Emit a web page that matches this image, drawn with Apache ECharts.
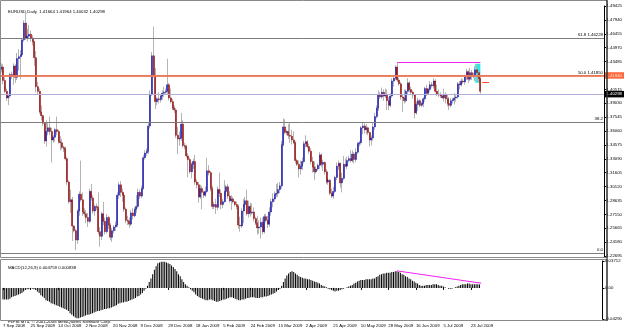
<!DOCTYPE html>
<html><head><meta charset="utf-8">
<script src="https://cdn.jsdelivr.net/npm/echarts@6/dist/echarts.min.js"></script>
<style>html,body{margin:0;padding:0;background:#fff}#c{width:625px;height:330px}</style>
</head><body><div id="c"></div>
<script>
// ---------- DATA ----------
const dateLabels = ["7 Sep 2008","25 Sep 2008","14 Oct 2008","2 Nov 2008","20 Nov 2008","9 Dec 2008","29 Dec 2008","18 Jan 2009","5 Feb 2009","24 Feb 2009","15 Mar 2009","2 Apr 2009","21 Apr 2009","10 May 2009","28 May 2009","16 Jun 2009","5 Jul 2009","23 Jul 2009"];
const dateLabelBars = [0,16,32,48,64,80,96,112,128,144,160,176,192,208,224,240,256,272];

const opens = [1.4265,
1.4290,1.4145,1.4030,1.3960,1.3980,1.4210,1.4190,1.4300,1.4180,1.4380,
1.4400,1.4420,1.4580,1.4760,1.4600,1.4620,1.4640,1.4600,1.4560,1.4390,
1.4080,1.4030,1.3810,1.3770,1.3690,1.3500,1.3600,1.3640,1.3600,1.3510,
1.3540,1.3620,1.3600,1.3490,1.3480,1.3430,1.3420,1.3310,1.3060,1.2850,
1.2870,1.2590,1.2540,1.2440,1.2750,1.2930,1.2870,1.2740,1.2720,1.2680,
1.2640,1.2960,1.2890,1.2750,1.2800,1.2790,1.2530,1.2480,1.2720,1.2640,
1.2530,1.2680,1.2600,1.2470,1.2540,1.2580,1.2600,1.2920,1.3030,1.2950,
1.2920,1.2770,1.2650,1.2640,1.2610,1.2730,1.2700,1.2770,1.2800,1.2950,
1.2910,1.2990,1.3320,1.3370,1.3390,1.3660,1.4000,1.4410,1.4200,1.3920,
1.3950,1.3940,1.3980,1.4010,1.4020,1.4030,1.4100,1.3960,1.3920,1.3850,
1.3830,1.3560,1.3520,1.3530,1.3680,1.3450,1.3440,1.3340,1.3300,1.3170,
1.3250,1.3280,1.3060,1.3030,1.2900,1.2990,1.2950,1.2920,1.2960,1.3180,
1.3160,1.2990,1.2800,1.2820,1.2790,1.2980,1.2940,1.2820,1.2850,1.2960,
1.3010,1.2910,1.2860,1.2880,1.2850,1.2820,1.2800,1.2600,1.2590,1.2750,
1.2820,1.2860,1.2720,1.2800,1.2730,1.2740,1.2670,1.2620,1.2570,1.2580,
1.2630,1.2530,1.2690,1.2650,1.2610,1.2740,1.2850,1.2880,1.2930,1.2940,
1.2980,1.3020,1.3460,1.3650,1.3590,1.3600,1.3560,1.3550,1.3510,1.3480,
1.3290,1.3250,1.3200,1.3230,1.3280,1.3470,1.3490,1.3440,1.3390,1.3280,
1.3220,1.3170,1.3200,1.3240,1.3350,1.3250,1.3270,1.3170,1.3060,1.3080,
1.2940,1.2910,1.2960,1.3110,1.3230,1.3260,1.3050,1.3100,1.3250,1.3230,
1.3290,1.3310,1.3290,1.3360,1.3300,1.3380,1.3470,1.3480,1.3640,1.3660,
1.3620,1.3640,1.3590,1.3510,1.3530,1.3650,1.3760,1.3850,1.3990,1.3970,
1.4020,1.3980,1.4000,1.3930,1.3880,1.3980,1.4140,1.4170,1.4290,1.4150,
1.4110,1.3970,1.3960,1.3930,1.4030,1.4120,1.4050,1.4020,1.3990,1.3800,
1.3890,1.3930,1.3880,1.3900,1.3950,1.4060,1.4010,1.4050,1.4100,1.4090,
1.4140,1.4030,1.4000,1.3990,1.3980,1.3960,1.3990,1.3950,1.3900,1.3880,
1.3930,1.3940,1.3960,1.3970,1.4110,1.4100,1.4140,1.4130,1.4190,1.4240,
1.4160,1.4230,1.4190,1.4200,1.4260,1.4230,1.41664];

const closes = [
1.4290,1.4145,1.4030,1.3960,1.3980,1.4210,1.4190,1.4300,1.4180,1.4380,
1.4400,1.4420,1.4580,1.4760,1.4600,1.4620,1.4640,1.4600,1.4560,1.4390,
1.4080,1.4030,1.3810,1.3770,1.3690,1.3500,1.3600,1.3640,1.3600,1.3510,
1.3540,1.3620,1.3600,1.3490,1.3480,1.3430,1.3420,1.3310,1.3060,1.2850,
1.2870,1.2590,1.2540,1.2440,1.2750,1.2930,1.2870,1.2740,1.2720,1.2680,
1.2640,1.2960,1.2890,1.2750,1.2800,1.2790,1.2530,1.2480,1.2720,1.2640,
1.2530,1.2680,1.2600,1.2470,1.2540,1.2580,1.2600,1.2920,1.3030,1.2950,
1.2920,1.2770,1.2650,1.2640,1.2610,1.2730,1.2700,1.2770,1.2800,1.2950,
1.2910,1.2990,1.3320,1.3370,1.3390,1.3660,1.4000,1.4410,1.4200,1.3920,
1.3950,1.3940,1.3980,1.4010,1.4020,1.4030,1.4100,1.3960,1.3920,1.3850,
1.3830,1.3560,1.3520,1.3530,1.3680,1.3450,1.3440,1.3340,1.3300,1.3170,
1.3250,1.3280,1.3060,1.3030,1.2900,1.2990,1.2950,1.2920,1.2960,1.3180,
1.3160,1.2990,1.2800,1.2820,1.2790,1.2980,1.2940,1.2820,1.2850,1.2960,
1.3010,1.2910,1.2860,1.2880,1.2850,1.2820,1.2800,1.2600,1.2590,1.2750,
1.2820,1.2860,1.2720,1.2800,1.2730,1.2740,1.2670,1.2620,1.2570,1.2580,
1.2630,1.2530,1.2690,1.2650,1.2610,1.2740,1.2850,1.2880,1.2930,1.2940,
1.2980,1.3020,1.3460,1.3650,1.3590,1.3600,1.3560,1.3550,1.3510,1.3480,
1.3290,1.3250,1.3200,1.3230,1.3280,1.3470,1.3490,1.3440,1.3390,1.3280,
1.3220,1.3170,1.3200,1.3240,1.3350,1.3250,1.3270,1.3170,1.3060,1.3080,
1.2940,1.2910,1.2960,1.3110,1.3230,1.3260,1.3050,1.3100,1.3250,1.3230,
1.3290,1.3310,1.3290,1.3360,1.3300,1.3380,1.3470,1.3480,1.3640,1.3660,
1.3620,1.3640,1.3590,1.3510,1.3530,1.3650,1.3760,1.3850,1.3990,1.3970,
1.4020,1.3980,1.4000,1.3930,1.3880,1.3980,1.4140,1.4170,1.4290,1.4150,
1.4110,1.3970,1.3960,1.3930,1.4030,1.4120,1.4050,1.4020,1.3990,1.3800,
1.3890,1.3930,1.3880,1.3900,1.3950,1.4060,1.4010,1.4050,1.4100,1.4090,
1.4140,1.4030,1.4000,1.3990,1.3980,1.3960,1.3990,1.3950,1.3900,1.3880,
1.3930,1.3940,1.3960,1.3970,1.4110,1.4100,1.4140,1.4130,1.4190,1.4240,
1.4160,1.4230,1.4190,1.4200,1.4260,1.4230,1.41664,1.40298];

const highs = [
1.4330,1.4320,1.4180,1.4060,1.4000,1.4230,1.4240,1.4330,1.4320,1.4440,
1.4480,1.4470,1.4600,1.4790,1.4867,1.4700,1.4740,1.4680,1.4630,1.4570,
1.4460,1.4130,1.4060,1.3880,1.3780,1.3700,1.3720,1.3700,1.3760,1.3640,
1.3560,1.3640,1.3760,1.3620,1.3550,1.3520,1.3450,1.3440,1.3330,1.3080,
1.2980,1.2900,1.2600,1.2560,1.2770,1.2960,1.3290,1.2950,1.2780,1.2760,
1.2730,1.2990,1.3040,1.2920,1.2820,1.2830,1.2950,1.2580,1.2740,1.2850,
1.2680,1.2720,1.2700,1.2620,1.2570,1.2600,1.2640,1.2950,1.3060,1.3070,
1.2990,1.2940,1.2790,1.2700,1.2680,1.2760,1.2780,1.2790,1.2920,1.2990,
1.2980,1.3020,1.3350,1.3400,1.3420,1.3700,1.4040,1.4450,1.4720,1.4280,
1.3970,1.4020,1.4000,1.4040,1.4080,1.4060,1.4380,1.4120,1.4060,1.3950,
1.3880,1.3850,1.3650,1.3600,1.3800,1.3720,1.3480,1.3460,1.3370,1.3320,
1.3270,1.3310,1.3350,1.3090,1.3060,1.3030,1.3020,1.2970,1.3010,1.3320,
1.3240,1.3180,1.3020,1.2850,1.2880,1.3010,1.3160,1.2980,1.2880,1.3080,
1.3030,1.3040,1.2960,1.2920,1.2900,1.2860,1.2850,1.2820,1.2690,1.2780,
1.2880,1.2900,1.2980,1.2860,1.2840,1.2830,1.2790,1.2690,1.2700,1.2650,
1.2680,1.2680,1.2720,1.2720,1.2700,1.2790,1.2880,1.2940,1.2960,1.3040,
1.3050,1.3060,1.3500,1.3740,1.3730,1.3620,1.3680,1.3690,1.3620,1.3600,
1.3500,1.3310,1.3290,1.3290,1.3320,1.3500,1.3560,1.3510,1.3470,1.3420,
1.3330,1.3280,1.3230,1.3260,1.3380,1.3370,1.3300,1.3280,1.3200,1.3100,
1.3090,1.2990,1.3010,1.3130,1.3270,1.3290,1.3270,1.3160,1.3340,1.3310,
1.3330,1.3340,1.3400,1.3400,1.3380,1.3420,1.3490,1.3500,1.3660,1.3700,
1.3690,1.3680,1.3650,1.3600,1.3560,1.3700,1.3800,1.3880,1.4040,1.4020,
1.4070,1.4050,1.4060,1.4050,1.3970,1.4010,1.4170,1.4190,1.4310,1.4338,
1.4180,1.4130,1.4000,1.4050,1.4050,1.4170,1.4140,1.4080,1.4040,1.4000,
1.3920,1.3960,1.3950,1.3920,1.3970,1.4080,1.4100,1.4070,1.4140,1.4130,
1.4170,1.4160,1.4100,1.4050,1.4020,1.4000,1.4060,1.4020,1.3990,1.3970,
1.3960,1.3960,1.4010,1.4000,1.4130,1.4140,1.4170,1.4160,1.4210,1.4270,
1.4260,1.4280,1.4260,1.4230,1.4300,1.4320,1.4250,1.41964];

const lows = [
1.4230,1.4105,1.4010,1.3930,1.3882,1.3960,1.4160,1.4100,1.4120,1.4150,
1.4250,1.4160,1.4410,1.4560,1.4580,1.4560,1.4590,1.4560,1.4520,1.4300,
1.4020,1.3990,1.3790,1.3720,1.3660,1.3470,1.3440,1.3560,1.3560,1.3270,
1.3480,1.3490,1.3560,1.3470,1.3400,1.3410,1.3380,1.3290,1.3030,1.2830,
1.2730,1.2430,1.2520,1.2330,1.2400,1.2700,1.2850,1.2700,1.2690,1.2620,
1.2580,1.2620,1.2860,1.2720,1.2700,1.2760,1.2500,1.2370,1.2440,1.2600,
1.2500,1.2510,1.2560,1.2440,1.2420,1.2510,1.2540,1.2580,1.2880,1.2900,
1.2850,1.2740,1.2620,1.2600,1.2570,1.2590,1.2660,1.2680,1.2730,1.2780,
1.2880,1.2890,1.2980,1.3300,1.3340,1.3360,1.3630,1.3980,1.4180,1.3840,
1.3880,1.3900,1.3910,1.3940,1.3970,1.3990,1.4000,1.3930,1.3900,1.3830,
1.3800,1.3530,1.3360,1.3450,1.3500,1.3430,1.3410,1.3320,1.3110,1.3150,
1.3100,1.3200,1.3030,1.2990,1.2840,1.2880,1.2770,1.2890,1.2900,1.2940,
1.3130,1.2960,1.2770,1.2770,1.2720,1.2760,1.2900,1.2770,1.2780,1.2840,
1.2900,1.2880,1.2840,1.2760,1.2830,1.2800,1.2770,1.2560,1.2530,1.2570,
1.2620,1.2790,1.2700,1.2680,1.2690,1.2710,1.2640,1.2600,1.2500,1.2510,
1.2455,1.2500,1.2510,1.2630,1.2570,1.2580,1.2700,1.2790,1.2850,1.2900,
1.2900,1.2940,1.2990,1.3440,1.3570,1.3560,1.3520,1.3480,1.3460,1.3470,
1.3260,1.3230,1.3110,1.3140,1.3190,1.3260,1.3430,1.3420,1.3360,1.3250,
1.3160,1.3080,1.3150,1.3180,1.3200,1.3220,1.3180,1.3140,1.3040,1.3030,
1.2920,1.2890,1.2880,1.2940,1.3080,1.3190,1.3000,1.2950,1.3080,1.3220,
1.3200,1.3270,1.3270,1.3270,1.3260,1.3270,1.3360,1.3440,1.3460,1.3570,
1.3580,1.3570,1.3560,1.3440,1.3450,1.3500,1.3620,1.3740,1.3820,1.3950,
1.3950,1.3930,1.3960,1.3830,1.3830,1.3860,1.3960,1.4080,1.4150,1.4130,
1.4090,1.3940,1.3810,1.3900,1.3910,1.4000,1.4020,1.3990,1.3950,1.3740,
1.3780,1.3820,1.3860,1.3860,1.3860,1.3920,1.3980,1.3990,1.4020,1.4070,
1.4060,1.4010,1.3980,1.3970,1.3960,1.3950,1.3920,1.3900,1.3870,1.3830,
1.3860,1.3900,1.3890,1.3920,1.3950,1.4050,1.4080,1.4110,1.4100,1.4150,
1.4120,1.4140,1.4150,1.4170,1.4140,1.4140,1.4130,1.40032];

const macdMain = [
-0.016,-0.016,-0.016,-0.016,-0.015,-0.013,-0.012,-0.011,-0.010,-0.009,
-0.008,-0.007,-0.005,-0.003,-0.002,-0.002,-0.001,-0.001,-0.002,-0.003,
-0.005,-0.007,-0.010,-0.012,-0.014,-0.017,-0.018,-0.019,-0.021,-0.022,
-0.023,-0.024,-0.025,-0.026,-0.027,-0.028,-0.029,-0.030,-0.032,-0.035,
-0.037,-0.039,-0.041,-0.042,-0.042,-0.041,-0.040,-0.039,-0.038,-0.037,
-0.037,-0.036,-0.035,-0.034,-0.033,-0.032,-0.032,-0.031,-0.030,-0.029,
-0.029,-0.028,-0.028,-0.027,-0.026,-0.025,-0.024,-0.022,-0.021,-0.020,
-0.020,-0.019,-0.019,-0.018,-0.017,-0.016,-0.015,-0.014,-0.012,-0.011,
-0.009,-0.007,-0.004,-0.001,0.003,0.008,0.013,0.019,0.025,0.030,
0.034,0.035,0.036,0.036,0.036,0.035,0.034,0.033,0.031,0.029,
0.026,0.023,0.019,0.016,0.012,0.008,0.005,0.003,0.001,-0.002,
-0.004,-0.006,-0.009,-0.011,-0.013,-0.014,-0.015,-0.016,-0.017,-0.017,
-0.016,-0.016,-0.017,-0.018,-0.019,-0.019,-0.018,-0.017,-0.016,-0.016,
-0.015,-0.014,-0.013,-0.013,-0.014,-0.015,-0.016,-0.017,-0.017,-0.016,
-0.016,-0.015,-0.014,-0.014,-0.013,-0.013,-0.013,-0.014,-0.014,-0.014,
-0.013,-0.013,-0.012,-0.012,-0.011,-0.010,-0.009,-0.008,-0.007,-0.005,
-0.003,-0.001,0.003,0.008,0.013,0.017,0.020,0.022,0.023,0.022,
0.020,0.018,0.016,0.015,0.014,0.013,0.013,0.012,0.012,0.011,
0.010,0.009,0.008,0.007,0.006,0.004,0.003,0.002,0.001,-0.001,
-0.002,-0.003,-0.004,-0.005,-0.004,-0.004,-0.003,-0.002,-0.001,0.000,
0.001,0.002,0.003,0.004,0.006,0.007,0.009,0.010,0.011,0.011,
0.011,0.012,0.012,0.012,0.012,0.013,0.013,0.015,0.016,0.018,
0.019,0.020,0.020,0.021,0.021,0.021,0.022,0.022,0.023,0.023,
0.022,0.021,0.019,0.018,0.016,0.015,0.013,0.012,0.010,0.009,
0.007,0.006,0.004,0.003,0.003,0.003,0.004,0.004,0.004,0.004,
0.005,0.005,0.005,0.004,0.003,0.003,0.002,0.001,0.000,-0.001,
-0.001,-0.001,0.000,0.001,0.002,0.003,0.004,0.005,0.005,0.005,
0.006,0.006,0.005,0.005,0.005,0.005,0.005,0.0048];

// price axis ticks
const priceMin = 1.22695, priceMax = 1.49425, priceStep = 0.01485;
const macdMax = 0.03712, macdMin = -0.04290;
// horizontal objects
const fibLevels = [
  {label: "61.8 1.46228", value: 1.46228},
  {label: "50.0 1.41850", value: 1.41850},
  {label: "38.2", value: 1.37470},
  {label: "0.0", value: 1.23300}
];
const orangeLine = 1.41940;
const bidPrice = 1.40298;
// trend objects [barIndex, value]
const priceTrend = [[229, 1.4338], [277, 1.4338]];
const macdTrend = [[229, 0.0235], [278, 0.0065]];
const shortRedLine = [[278, 1.4127], [282, 1.4127]];
const cyanBox = [[274, 1.4325], [277, 1.4122]];
const slots = 349; // bars shown including right-side shift

// ---------- CHART ----------
const FF = 'Liberation Sans';
const FS = 4.3;
const cats = Array.from({length: slots}, (_, i) => String(i));
const n = closes.length;
const wickData = [], bodyData = [];
for (let i = 0; i < n; i++) {
  wickData.push([opens[i], closes[i], lows[i], highs[i]]);
  bodyData.push([opens[i], closes[i], Math.min(opens[i], closes[i]), Math.max(opens[i], closes[i])]);
}
const labelMap = {};
dateLabelBars.forEach((b, k) => labelMap[b] = dateLabels[k]);
const showLabel = (i) => labelMap[i] !== undefined;

const gridL = 0.63, gridR = 17.98;
const chart = echarts.init(document.getElementById('c'), null, {renderer: 'canvas'});

const hLines = [];
fibLevels.forEach(f => hLines.push({
  yAxis: f.value,
  lineStyle: {color: '#7c7c7c', width: 1, type: 'solid'},
  label: {show: true, position: 'insideEndTop', formatter: f.label, fontSize: FS, fontFamily: FF, color: '#000', distance: [1, 1]}
}));
hLines.push({
  yAxis: orangeLine,
  lineStyle: {color: '#f07a55', width: 2, type: 'solid', opacity: 0.9},
  label: {show: true, position: 'end', formatter: orangeLine.toFixed(5), fontSize: FS, fontFamily: FF, color: '#fff', backgroundColor: '#ff5a28', padding: [1.5, 2, 1, 1.5], distance: 1}
});
hLines.push({
  yAxis: bidPrice,
  lineStyle: {color: '#b0b0d8', width: 1, type: 'solid'},
  label: {show: true, position: 'end', formatter: bidPrice.toFixed(5), fontSize: FS, fontFamily: FF, color: '#fff', backgroundColor: '#000', padding: [1.5, 2, 1, 1.5], distance: 1}
});
hLines.push([
  {coord: [String(priceTrend[0][0]), priceTrend[0][1]], lineStyle: {color: '#f020f0', width: 1, type: 'solid'}, label: {show: false}},
  {coord: [String(priceTrend[1][0]), priceTrend[1][1]]}
]);
hLines.push([
  {coord: [String(shortRedLine[0][0]), shortRedLine[0][1]], lineStyle: {color: '#ff4a2a', width: 1, type: 'solid'}, label: {show: false}},
  {coord: [String(shortRedLine[1][0]), shortRedLine[1][1]]}
]);

const option = {
  animation: false,
  backgroundColor: '#fff',
  title: [
    {text: 'EURUSD,Daily  1.41664 1.41964 1.40032 1.40298', left: 3, top: 4.5, textStyle: {fontSize: FS, fontWeight: 'normal', color: '#000', fontFamily: FF}},
    {text: 'MACD(12,26,9) 0.004759 0.000838', left: 3, top: 261, textStyle: {fontSize: FS, fontWeight: 'normal', color: '#000', fontFamily: FF}},
    {text: 'FxPro MT4, \u00a9 2001-2008 MetaQuotes Software Corp.', left: 3, top: 314.5, textStyle: {fontSize: FS, fontWeight: 'normal', color: '#000', fontFamily: FF}}
  ],
  grid: [
    {left: gridL, right: gridR, top: 6, height: 250},
    {left: gridL, right: gridR, top: 261, height: 58}
  ],
  xAxis: [
    {type: 'category', gridIndex: 0, data: cats, boundaryGap: true, axisLine: {show: false}, axisTick: {show: false}, axisLabel: {show: false}, splitLine: {show: false}},
    {type: 'category', gridIndex: 1, data: cats, boundaryGap: true, axisLine: {show: false},
      axisTick: {show: true, interval: (i) => showLabel(i), alignWithLabel: true, length: 2, lineStyle: {color: '#000', width: 1}},
      axisLabel: {show: true, interval: (i) => showLabel(i), formatter: (v, i) => labelMap[i] || '', align: 'left', fontSize: FS, fontFamily: FF, color: '#000', margin: 4.5},
      splitLine: {show: false}}
  ],
  yAxis: [
    {type: 'value', gridIndex: 0, position: 'right', min: priceMin, max: priceMax, interval: priceStep, scale: true,
      axisLine: {show: true, lineStyle: {color: '#000', width: 1}},
      axisTick: {show: true, length: 2, lineStyle: {color: '#000'}},
      axisLabel: {fontSize: FS, fontFamily: FF, color: '#000', margin: 2.5, formatter: (v) => v.toFixed(5)},
      splitLine: {show: false}},
    {type: 'value', gridIndex: 1, position: 'right', min: macdMin, max: macdMax,
      axisLine: {show: true, lineStyle: {color: '#000', width: 1}},
      axisTick: {show: true, length: 2, customValues: [macdMax, 0, macdMin], lineStyle: {color: '#000'}},
      axisLabel: {fontSize: FS, fontFamily: FF, color: '#000', margin: 2.5, customValues: [macdMax, 0, macdMin], formatter: (v) => (Math.abs(v) < 1e-9 ? '0.00' : v.toFixed(5))},
      splitLine: {show: false}}
  ],
  series: [
    {
      type: 'candlestick', name: 'wick', xAxisIndex: 0, yAxisIndex: 0, data: wickData, barWidth: 1, silent: true, clip: false,
      itemStyle: {color: '#b4b4b4', color0: '#b4b4b4', borderColor: '#b4b4b4', borderColor0: '#b4b4b4', borderWidth: 1},
      markArea: {silent: true, itemStyle: {color: '#1fe6e6', opacity: 0.95},
        data: [[{coord: [String(cyanBox[0][0]), cyanBox[0][1]]}, {coord: [String(cyanBox[1][0]), cyanBox[1][1]]}]]}
    },
    {
      type: 'candlestick', name: 'body', xAxisIndex: 0, yAxisIndex: 0, data: bodyData, barWidth: 1.5, silent: true, clip: false,
      itemStyle: {color: '#1818b0', color0: '#960c0c', borderColor: '#1818b0', borderColor0: '#960c0c', borderWidth: 0.5},
      markLine: {silent: true, symbol: ['none', 'none'], animation: false, data: hLines}
    },
    {
      type: 'bar', name: 'MACD', xAxisIndex: 1, yAxisIndex: 1, data: macdMain, barWidth: 1, silent: true,
      itemStyle: {color: '#000'},
      markLine: {silent: true, symbol: ['none', 'none'], animation: false,
        data: [[{coord: [String(macdTrend[0][0]), macdTrend[0][1]], lineStyle: {color: '#f020f0', width: 1, type: 'solid'}, label: {show: false}},
                {coord: [String(macdTrend[1][0]), macdTrend[1][1]]}]]}
    }
  ],
  graphic: [
    {type: 'rect', shape: {x: 0.5, y: 0.5, width: 606.5, height: 257}, style: {fill: null, stroke: '#8a8a8a', lineWidth: 1}, silent: true, z: 100},
    {type: 'rect', shape: {x: 0.5, y: 259.5, width: 606.5, height: 61}, style: {fill: null, stroke: '#8a8a8a', lineWidth: 1}, silent: true, z: 100},
    {type: 'line', shape: {x1: 607, y1: 0, x2: 607, y2: 321}, style: {stroke: '#000', lineWidth: 1}, silent: true, z: 101}
  ]
};
chart.setOption(option);
</script>
</body></html>
